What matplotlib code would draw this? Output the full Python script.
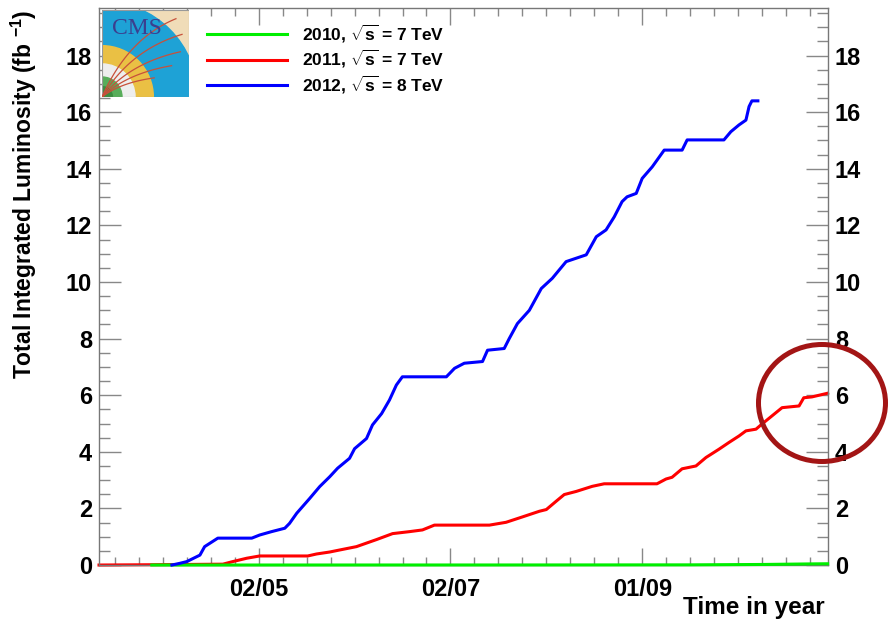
import numpy as np
import matplotlib.pyplot as plt
from matplotlib.patches import Ellipse, Wedge, Rectangle
from matplotlib.lines import Line2D

plt.rcParams['font.family'] = ['Liberation Sans', 'DejaVu Sans']
plt.rcParams['font.weight'] = 'bold'
plt.rcParams['axes.labelweight'] = 'bold'
plt.rcParams['mathtext.fontset'] = 'custom'
plt.rcParams['mathtext.rm'] = 'Liberation Sans:bold'
plt.rcParams['mathtext.it'] = 'Liberation Sans:bold'
plt.rcParams['mathtext.bf'] = 'Liberation Sans:bold'

# day of year -> integrated luminosity (fb^-1)
day_2012 = [95.4, 97.9, 100.1, 104.3, 105.8, 110.0, 120.8, 123.3, 127.1, 131.3, 132.8, 135.1,
            139.2, 142.4, 145.6, 148.1, 151.9, 153.5, 157.3, 159.2, 162.1, 164.6, 166.8, 168.7,
            182.7, 185.3, 188.4, 194.2, 195.8, 201.1, 202.7, 205.3, 209.1, 212.9, 216.4, 220.8,
            224.0, 227.2, 230.4, 233.5, 236.1, 238.6, 240.2, 243.1, 245.0, 248.2, 252.0, 257.7,
            259.3, 271.0, 273.2, 275.8, 278.0, 279.0, 279.9, 281.8]
lumi_2012 = [0, 0.06, 0.12, 0.35, 0.65, 0.95, 0.95, 1.06, 1.18, 1.30, 1.47, 1.83,
             2.35, 2.77, 3.12, 3.42, 3.77, 4.11, 4.47, 4.95, 5.35, 5.83, 6.36, 6.65,
             6.65, 6.95, 7.13, 7.19, 7.59, 7.65, 8.0, 8.53, 9.0, 9.77, 10.13, 10.72,
             10.84, 10.96, 11.6, 11.84, 12.3, 12.84, 13.01, 13.13, 13.66, 14.07, 14.66, 14.66,
             15.02, 15.02, 15.31, 15.55, 15.72, 16.2, 16.4, 16.4]

day_2011 = [72.2, 88.4, 111.6, 114.7, 119.2, 123.3, 138.6, 141.4, 145.6, 148.7, 154.1, 160.5,
            165.6, 171.0, 175.1, 178.9, 196.4, 201.7, 206.9, 212.3, 214.5, 217.7, 220.2, 224.0,
            229.1, 232.9, 249.7, 252.6, 254.5, 257.7, 262.1, 265.3, 269.4, 272.6, 275.8, 278.0,
            281.2, 283.1, 286.3, 289.5, 294.9, 296.4, 299.0, 304.0]
lumi_2011 = [0, 0.01, 0.03, 0.12, 0.24, 0.32, 0.32, 0.39, 0.46, 0.53, 0.65, 0.90,
             1.11, 1.18, 1.24, 1.41, 1.41, 1.51, 1.70, 1.90, 1.96, 2.26, 2.49, 2.60,
             2.78, 2.87, 2.87, 3.04, 3.10, 3.40, 3.50, 3.80, 4.09, 4.33, 4.56, 4.74,
             4.80, 4.98, 5.27, 5.56, 5.62, 5.91, 5.94, 6.07]

day_2010 = [89.0, 200.0, 260.0, 283.7, 299.0, 304.0]
lumi_2010 = [0.0, 0.002, 0.006, 0.02, 0.04, 0.045]

labels = [r'2010, $\sqrt{s}$ = 7 TeV', r'2011, $\sqrt{s}$ = 7 TeV', r'2012, $\sqrt{s}$ = 8 TeV']
colors = ['#00ee00', '#ff0000', '#0000ff']

tick_days = [123, 184, 245]
tick_labels = ['02/05', '02/07', '01/09']

fig = plt.figure(figsize=(8.88, 6.22), dpi=100)
ax = fig.add_axes([0.1115, 0.0916, 0.8209, 0.8955])

ax.plot(day_2011, lumi_2011, color=colors[1], lw=2.2, zorder=2, clip_on=False)
ax.plot(day_2010, lumi_2010, color=colors[0], lw=2.2, zorder=3, clip_on=False)
ax.plot(day_2012, lumi_2012, color=colors[2], lw=2.2, zorder=4, clip_on=False)

ax.set_xlim(72.2, 304.1)
ax.set_ylim(0, 19.68)

ax.set_xticks(tick_days)
ax.set_xticklabels(tick_labels)
ax.set_xticks(np.arange(123 - 6 * 7.625, 305, 7.625), minor=True)
ax.set_yticks(np.arange(0, 19, 2))
ax.set_yticks(np.arange(0, 19.6, 0.5), minor=True)

ax.tick_params(which='both', direction='in', top=True, right=True, labelright=True,
               color='#888888', width=1, labelsize=17)
ax.tick_params(axis='y', which='major', length=15.6, pad=5)
ax.tick_params(axis='y', which='minor', length=8)
ax.tick_params(axis='x', which='major', length=12.2, pad=9)
ax.tick_params(axis='x', which='minor', length=6)
for s in ax.spines.values():
    s.set_color('#777777')
    s.set_linewidth(1)

ax.set_ylabel(r'Total Integrated Luminosity (fb $^{-1}$)', fontsize=16.5, fontweight='bold', loc='top')
ax.yaxis.set_label_coords(-0.083, 0.997)
ax.set_xlabel('Time in year', fontsize=17.5, fontweight='bold', loc='right')
ax.xaxis.set_label_coords(0.996, -0.055)

handles = [Line2D([], [], color=c, lw=2.2) for c in colors]
fig.legend(handles, labels, loc='upper left', bbox_to_anchor=(207 / 888, 0.9635),
           frameon=False, fontsize=12.5, handlelength=4.6, handletextpad=0.85,
           labelspacing=0.2, borderpad=0, borderaxespad=0)

# CMS logo
lx = fig.add_axes([102 / 888, 1 - 97 / 622, 87 / 888, 87 / 622])
lx.set_xlim(0, 1)
lx.set_ylim(0, 1)
lx.axis('off')
lx.add_patch(Rectangle((0, 0), 1, 1, color='#f0dcb8'))
lx.add_patch(Wedge((0, 0), 1.1, 0, 90, width=0.51, color='#1ea2d6'))
lx.add_patch(Wedge((0, 0), 0.59, 0, 90, width=0.21, color='#eac044'))
lx.add_patch(Wedge((0, 0), 0.38, 0, 90, width=0.15, color='#eeeeee'))
lx.add_patch(Wedge((0, 0), 0.23, 0, 90, color='#58ad5a'))
lx.add_patch(Wedge((0, 0), 0.12, 0, 90, color='#3c8c40'))
for ex, ey in [(0.85, 0.9), (0.92, 0.72), (0.9, 0.52), (0.8, 0.36), (0.6, 0.22)]:
    t = np.linspace(0, 1, 30)
    cx, cy = ex * 0.35, ey * 0.75
    px = 2 * (1 - t) * t * cx + t ** 2 * ex
    py = 2 * (1 - t) * t * cy + t ** 2 * ey
    lx.plot(px, py, color='#c8503a', lw=0.9)
lx.text(0.4, 0.79, 'CMS', family='Liberation Serif', weight='normal', fontsize=17,
        color='#3b3f8f', ha='center', va='center')
lx.add_patch(Rectangle((0, 0), 1, 1, fill=False, ec='#999999', lw=0.8))

fig.add_artist(Ellipse((822 / 888, 1 - 403 / 622), 127 / 888, 117 / 622,
                       transform=fig.transFigure, fill=False, ec='#a31515', lw=3.6))

fig.savefig('out.png', dpi=100)
